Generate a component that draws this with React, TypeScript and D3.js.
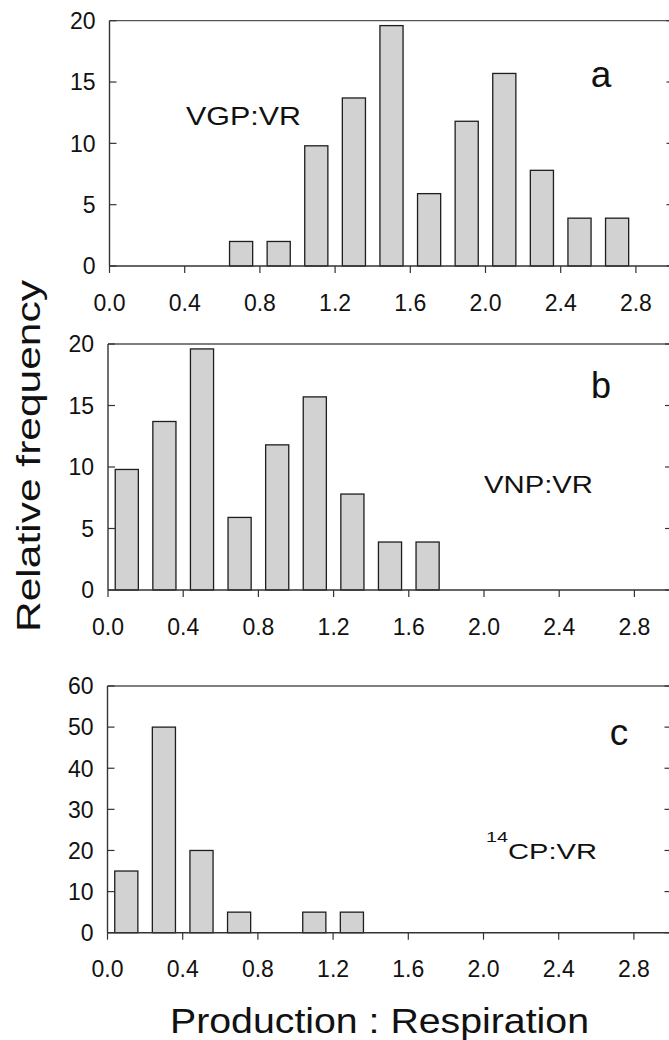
import React from 'react';
import * as d3 from 'd3';

const xTickValues = [0, 0.4, 0.8, 1.2, 1.6, 2.0, 2.4, 2.8];
const binCentersA = [0.7, 0.9, 1.1, 1.3, 1.5, 1.7, 1.9, 2.1, 2.3, 2.5, 2.7];
const freqA = [2, 2, 9.8, 13.7, 19.6, 5.9, 11.8, 15.7, 7.8, 3.9, 3.9];
const binCentersB = [0.1, 0.3, 0.5, 0.7, 0.9, 1.1, 1.3, 1.5, 1.7];
const freqB = [9.8, 13.7, 19.6, 5.9, 11.8, 15.7, 7.8, 3.9, 3.9];
const binCentersC = [0.1, 0.3, 0.5, 0.7, 1.1, 1.3];
const freqC = [15, 50, 20, 5, 5, 5];
const yTicksAB = [0, 5, 10, 15, 20];
const yTicksC = [0, 10, 20, 30, 40, 50, 60];
const panelLetters = ['a', 'b', 'c'];
const yTitle = 'Relative frequency';
const xTitle = 'Production : Respiration';

const FONT = '"Liberation Sans", Arial, Helvetica, sans-serif';
const PX_PER_UNIT = 188;
const BAR_HALF = 0.0615;

type PanelProps = {
  x0: number;
  yTop: number;
  yBottom: number;
  yMax: number;
  yTicks: number[];
  centers: number[];
  values: number[];
  children?: React.ReactNode;
};

function Panel({ x0, yTop, yBottom, yMax, yTicks, centers, values, children }: PanelProps) {
  const x = d3.scaleLinear().domain([0, 3]).range([x0, x0 + 3 * PX_PER_UNIT]);
  const y = d3.scaleLinear().domain([0, yMax]).range([yBottom, yTop]);
  const xR = x(3);
  const axisColor = '#333';
  return (
    <g>
      {centers.map((c, i) => (
        <rect
          key={i}
          x={x(c - BAR_HALF)}
          y={y(values[i])}
          width={x(c + BAR_HALF) - x(c - BAR_HALF)}
          height={y(0) - y(values[i])}
          fill="#d2d2d2"
          stroke="#1e1e1e"
          strokeWidth={1.3}
        />
      ))}
      {/* frame */}
      <line x1={x0} x2={xR} y1={yTop} y2={yTop} stroke="#555" strokeWidth={1.3} />
      <line x1={xR} x2={xR} y1={yTop} y2={yBottom} stroke={axisColor} strokeWidth={1.3} />
      <line x1={x0} x2={x0} y1={yTop} y2={yBottom} stroke={axisColor} strokeWidth={1.4} />
      <line x1={x0} x2={xR} y1={yBottom} y2={yBottom} stroke={axisColor} strokeWidth={1.4} />
      {/* y ticks */}
      {yTicks.map((t) => (
        <g key={'y' + t}>
          <line x1={x0} x2={x0 + 7} y1={y(t)} y2={y(t)} stroke={axisColor} strokeWidth={1.2} />
          <line x1={xR} x2={xR - 7} y1={y(t)} y2={y(t)} stroke={axisColor} strokeWidth={1.2} />
          <text
            x={x0 - 14}
            y={y(t)}
            dy="0.36em"
            textAnchor="end"
            fontFamily={FONT}
            fontSize={23}
            fill="#111"
          >
            {String(t)}
          </text>
        </g>
      ))}
      {/* x ticks */}
      {xTickValues.map((t) => (
        <g key={'x' + t}>
          <line x1={x(t)} x2={x(t)} y1={yBottom} y2={yBottom + 7} stroke={axisColor} strokeWidth={1.2} />
          <text
            x={x(t)}
            y={yBottom + 44.5}
            textAnchor="middle"
            fontFamily={FONT}
            fontSize={23}
            fill="#111"
          >
            {t.toFixed(1)}
          </text>
        </g>
      ))}
      {children}
    </g>
  );
}

export default function App() {
  return (
    <svg
      width={669}
      height={1040}
      style={{ position: 'absolute', left: 0, top: 0, background: '#fff' }}
    >
      <rect x={0} y={0} width={669} height={1040} fill="#fff" />
      <Panel x0={109.5} yTop={20.7} yBottom={266} yMax={20} yTicks={yTicksAB} centers={binCentersA} values={freqA}>
        <text x={601} y={87} textAnchor="middle" fontFamily={FONT} fontSize={37} fill="#111">
          {panelLetters[0]}
        </text>
        <text x={186} y={125} textLength={115} lengthAdjust="spacingAndGlyphs" fontFamily={FONT} fontSize={25} fill="#111">
          VGP:VR
        </text>
      </Panel>
      <Panel x0={108} yTop={344} yBottom={590} yMax={20} yTicks={yTicksAB} centers={binCentersB} values={freqB}>
        <text x={601} y={398} textAnchor="middle" fontFamily={FONT} fontSize={36} fill="#111">
          {panelLetters[1]}
        </text>
        <text x={484} y={493} textLength={109} lengthAdjust="spacingAndGlyphs" fontFamily={FONT} fontSize={23} fill="#111">
          VNP:VR
        </text>
      </Panel>
      <Panel x0={107.5} yTop={686} yBottom={932.7} yMax={60} yTicks={yTicksC} centers={binCentersC} values={freqC}>
        <text x={619} y={745} textAnchor="middle" fontFamily={FONT} fontSize={37} fill="#111">
          {panelLetters[2]}
        </text>
        <text x={486} y={842} textLength={22} lengthAdjust="spacingAndGlyphs" fontFamily={FONT} fontSize={15} fill="#111">
          14
        </text>
        <text x={508} y={859} textLength={89} lengthAdjust="spacingAndGlyphs" fontFamily={FONT} fontSize={22} fill="#111">
          CP:VR
        </text>
      </Panel>
      <text
        transform="translate(40,456) rotate(-90)"
        textAnchor="middle"
        textLength={352}
        lengthAdjust="spacingAndGlyphs"
        fontFamily={FONT}
        fontSize={33}
        fill="#111"
      >
        {yTitle}
      </text>
      <text
        x={170}
        y={1033}
        textLength={419}
        lengthAdjust="spacingAndGlyphs"
        fontFamily={FONT}
        fontSize={35}
        fill="#111"
      >
        {xTitle}
      </text>
    </svg>
  );
}
